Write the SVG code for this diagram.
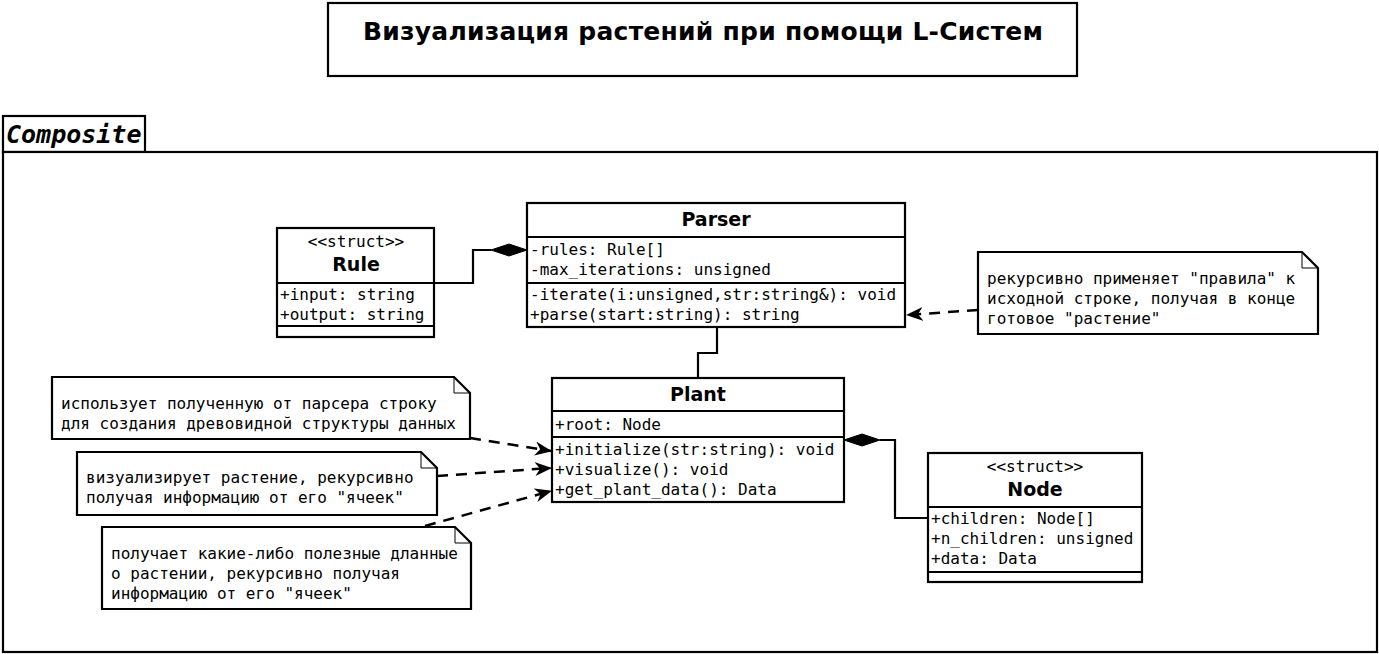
<svg xmlns="http://www.w3.org/2000/svg" width="1379" height="654" viewBox="0 0 1379 654">
<style>
.box{fill:#fff;stroke:#000;stroke-width:2.2}
.ln{fill:none;stroke:#000;stroke-width:2.2}
.thin{fill:none;stroke:#000;stroke-width:1}
.dash{fill:none;stroke:#000;stroke-width:2.5;stroke-dasharray:11 8}
.m{font-family:"DejaVu Sans Mono","Liberation Mono",monospace;font-size:16px;fill:#000}
.b{font-family:"DejaVu Sans","Liberation Sans",sans-serif;font-weight:bold;font-size:19px;fill:#000}
.t{font-family:"DejaVu Sans","Liberation Sans",sans-serif;font-weight:bold;font-size:25px;fill:#000}
.c{font-family:"DejaVu Sans Mono","Liberation Mono",monospace;font-weight:bold;font-style:oblique;font-size:25px;fill:#000}
</style>
<defs>
<marker id="arr" markerWidth="20" markerHeight="16" refX="16" refY="7" orient="auto" markerUnits="userSpaceOnUse">
<path d="M0,0 L17,7 L0,14 L5,7 z" fill="#000"/>
</marker>
</defs>
<rect width="1379" height="654" fill="#fff"/>
<g id="title">
<rect class="box" x="328" y="3" width="749" height="73"/>
<text class="t" x="363" y="40" textLength="680" lengthAdjust="spacing">Визуализация растений при помощи L-Систем</text>
</g>
<g id="composite">
<rect class="box" x="3" y="116" width="142" height="36"/>
<text class="c" x="6" y="143">Composite</text>
<rect class="box" x="3" y="152" width="1374" height="500"/>
</g>
<g id="connectors">
<polyline class="ln" points="434,283 473,283 473,250 491,250"/>
<path d="M491,250 L509,244 L527,250 L509,256 z" fill="#000" stroke="#000" stroke-width="1"/>
<polyline class="ln" points="717,327 717,353 698,353 698,378"/>
<polyline class="ln" points="880,440 895,440 895,518 928,518"/>
<path d="M844,440 L862,434 L880,440 L862,446 z" fill="#000" stroke="#000" stroke-width="1"/>
<line class="dash" x1="978" y1="310" x2="907" y2="315" marker-end="url(#arr)"/>
<line class="dash" x1="470" y1="438" x2="551" y2="451" marker-end="url(#arr)"/>
<line class="dash" x1="437" y1="476" x2="551" y2="468" marker-end="url(#arr)"/>
<line class="dash" x1="425" y1="526" x2="551" y2="491" marker-end="url(#arr)"/>
</g>
<g id="rule">
<rect class="box" x="277" y="228" width="157" height="109"/>
<text class="m" x="356" y="247" text-anchor="middle">&lt;&lt;struct&gt;&gt;</text>
<text class="b" x="356" y="271" text-anchor="middle">Rule</text>
<line class="ln" x1="277" y1="283" x2="434" y2="283"/>
<text class="m" x="280" y="300">+input: string</text>
<text class="m" x="280" y="320">+output: string</text>
<line class="ln" x1="277" y1="326" x2="434" y2="326"/>
</g>
<g id="parser">
<rect class="box" x="527" y="203" width="378" height="124"/>
<text class="b" x="716" y="226" text-anchor="middle">Parser</text>
<line class="ln" x1="527" y1="237" x2="905" y2="237"/>
<text class="m" x="530" y="255">-rules: Rule[]</text>
<text class="m" x="530" y="275">-max_iterations: unsigned</text>
<line class="ln" x1="527" y1="283" x2="905" y2="283"/>
<text class="m" x="530" y="300">-iterate(i:unsigned,str:string&amp;): void</text>
<text class="m" x="530" y="320">+parse(start:string): string</text>
</g>
<g id="note-parser">
<path class="box" d="M978,252 L1302,252 L1318,268 L1318,334 L978,334 z"/>
<polyline class="thin" points="1302,252 1302,268 1318,268"/>
<text class="m" x="987" y="284">рекурсивно применяет "правила" к</text>
<text class="m" x="987" y="304">исходной строке, получая в конце</text>
<text class="m" x="987" y="324">готовое "растение"</text>
</g>
<g id="plant">
<rect class="box" x="552" y="378" width="292" height="124"/>
<text class="b" x="698" y="401" text-anchor="middle">Plant</text>
<line class="ln" x1="552" y1="411" x2="844" y2="411"/>
<text class="m" x="555" y="430">+root: Node</text>
<line class="ln" x1="552" y1="437" x2="844" y2="437"/>
<text class="m" x="555" y="455">+initialize(str:string): void</text>
<text class="m" x="555" y="475">+visualize(): void</text>
<text class="m" x="555" y="495">+get_plant_data(): Data</text>
</g>
<g id="node">
<rect class="box" x="928" y="453" width="214" height="129"/>
<text class="m" x="1035" y="472" text-anchor="middle">&lt;&lt;struct&gt;&gt;</text>
<text class="b" x="1035" y="496" text-anchor="middle">Node</text>
<line class="ln" x1="928" y1="507" x2="1142" y2="507"/>
<text class="m" x="931" y="524">+children: Node[]</text>
<text class="m" x="931" y="544">+n_children: unsigned</text>
<text class="m" x="931" y="564">+data: Data</text>
<line class="ln" x1="928" y1="572" x2="1142" y2="572"/>
</g>
<g id="note-initialize">
<path class="box" d="M52,377 L454,377 L470,393 L470,439 L52,439 z"/>
<polyline class="thin" points="454,377 454,393 470,393"/>
<text class="m" x="61" y="409">использует полученную от парсера строку</text>
<text class="m" x="61" y="429">для создания древовидной структуры данных</text>
</g>
<g id="note-visualize">
<path class="box" d="M77,452 L421,452 L437,468 L437,515 L77,515 z"/>
<polyline class="thin" points="421,452 421,468 437,468"/>
<text class="m" x="86" y="483">визуализирует растение, рекурсивно</text>
<text class="m" x="86" y="503">получая информацию от его "ячеек"</text>
</g>
<g id="note-data">
<path class="box" d="M102,527 L455,527 L471,543 L471,609 L102,609 z"/>
<polyline class="thin" points="455,527 455,543 471,543"/>
<text class="m" x="111" y="559">получает какие-либо полезные дланные</text>
<text class="m" x="111" y="579">о растении, рекурсивно получая</text>
<text class="m" x="111" y="599">информацию от его "ячеек"</text>
</g>
</svg>
